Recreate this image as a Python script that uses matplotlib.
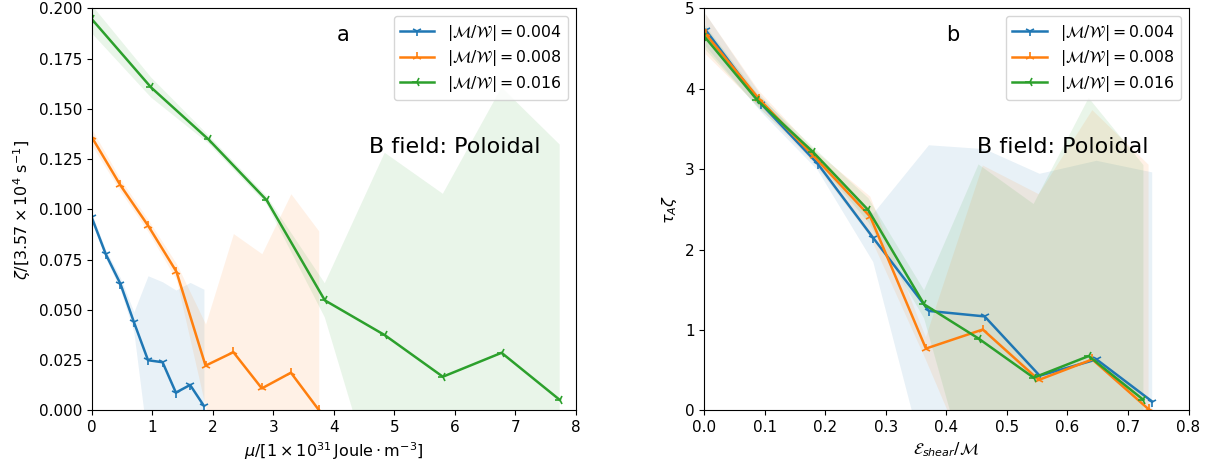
import numpy as np
import matplotlib
matplotlib.use('Agg')
from matplotlib import pyplot as plt

# panel a: zeta vs mu, one series per |M/W|
labels = [r'$|\mathcal{M}/\mathcal{W}| = 0.004$',
          r'$|\mathcal{M}/\mathcal{W}| = 0.008$',
          r'$|\mathcal{M}/\mathcal{W}| = 0.016$']
markers = ['1', '2', '3']

mu_004 = [0, 0.234, 0.474, 0.696, 0.93, 1.17, 1.39, 1.625, 1.853]
zeta_004 = [0.096, 0.0776, 0.063, 0.044, 0.025, 0.024, 0.0089, 0.0127, 0.0023]
zeta_004_std = [0.002, 0.002, 0.003, 0.005, 0.042, 0.040, 0.051, 0.051, 0.058]

mu_008 = [0, 0.474, 0.93, 1.40, 1.88, 2.34, 2.81, 3.29, 3.75]
zeta_008 = [0.136, 0.112, 0.092, 0.069, 0.0223, 0.029, 0.011, 0.0188, 0.0003]
zeta_008_std = [0.004, 0.003, 0.003, 0.004, 0.0207, 0.059, 0.067, 0.089, 0.089]

mu_016 = [0, 0.98, 1.93, 2.89, 3.85, 4.84, 5.80, 6.77, 7.73]
zeta_016 = [0.1947, 0.1607, 0.1348, 0.1046, 0.0548, 0.0375, 0.0168, 0.0287, 0.0053]
zeta_016_std = [0.007, 0.005, 0.002, 0.002, 0.0085, 0.0907, 0.091, 0.132, 0.127]

# panel b: tau_A*zeta vs E_shear/M
es_004 = [0.002, 0.094, 0.187, 0.279, 0.371, 0.463, 0.554, 0.648, 0.740]
tz_004 = [4.73, 3.81, 3.07, 2.145, 1.238, 1.17, 0.433, 0.635, 0.111]
tz_004_std = [0.2, 0.1, 0.08, 0.3, 2.06, 2.08, 2.51, 2.47, 2.85]

es_008 = [0.002, 0.0907, 0.181, 0.274, 0.366, 0.46, 0.5525, 0.641, 0.734]
tz_008 = [4.68, 3.87, 3.16, 2.41, 0.77, 1.007, 0.38, 0.635, 0.016]
tz_008_std = [0.25, 0.1, 0.08, 0.25, 0.14, 2.04, 2.31, 3.1, 3.04]

es_016 = [0.0, 0.0875, 0.179, 0.271, 0.363, 0.453, 0.544, 0.635, 0.7255]
tz_016 = [4.65, 3.857, 3.218, 2.49, 1.32, 0.895, 0.408, 0.677, 0.132]
tz_016_std = [0.15, 0.08, 0.06, 0.15, 0.175, 2.165, 2.16, 3.21, 2.92]

plt.rcParams['xtick.labelsize'] = 11
plt.rcParams['ytick.labelsize'] = 11
plt.rcParams['axes.labelsize'] = 11.5


def draw(ax, xs, ys, stds):
    for i in range(3):
        x = np.array(xs[i])
        y = np.array(ys[i])
        s = np.array(stds[i])
        ax.plot(x, y, marker=markers[i], color='C' + str(i), label=labels[i],
                lw=1.8, ms=7, mew=1.2)
        ax.fill_between(x, y - s, y + s, color='C' + str(i), alpha=0.1, lw=0)


fig = plt.figure(figsize=(12.15, 4.67), dpi=100)
ax1 = fig.add_axes([0.0755, 0.121, 0.3986, 0.861])
ax2 = fig.add_axes([0.5798, 0.121, 0.3984, 0.861])

draw(ax1, [mu_004, mu_008, mu_016], [zeta_004, zeta_008, zeta_016],
     [zeta_004_std, zeta_008_std, zeta_016_std])
ax1.set_xlim(0, 8)
ax1.set_ylim(0, 0.2)
ax1.set_xlabel(r'$\mu/[1\times10^{31}\,\mathrm{Joule}\cdot\mathrm{m}^{-3}]$')
ax1.set_ylabel(r'$\zeta/[3.57\times10^{4}\ \mathrm{s}^{-1}]$')
ax1.legend(loc='upper right', fontsize=11.3, handlelength=2.2, labelspacing=0.35)
ax1.text(0.506, 0.935, 'a', transform=ax1.transAxes, fontsize=15, va='center')
ax1.text(0.573, 0.64, 'B field: Poloidal', transform=ax1.transAxes, fontsize=16)

draw(ax2, [es_004, es_008, es_016], [tz_004, tz_008, tz_016],
     [tz_004_std, tz_008_std, tz_016_std])
ax2.set_xlim(0, 0.8)
ax2.set_ylim(0, 5)
ax2.set_xlabel(r'$\mathcal{E}_{shear}/\mathcal{M}$')
ax2.set_ylabel(r'$\tau_A\zeta$')
ax2.legend(loc='upper right', fontsize=11.3, handlelength=2.2, labelspacing=0.35)
ax2.text(0.499, 0.935, 'b', transform=ax2.transAxes, fontsize=15, va='center')
ax2.text(0.564, 0.64, 'B field: Poloidal', transform=ax2.transAxes, fontsize=16)

fig.savefig('out.png', dpi=100)
